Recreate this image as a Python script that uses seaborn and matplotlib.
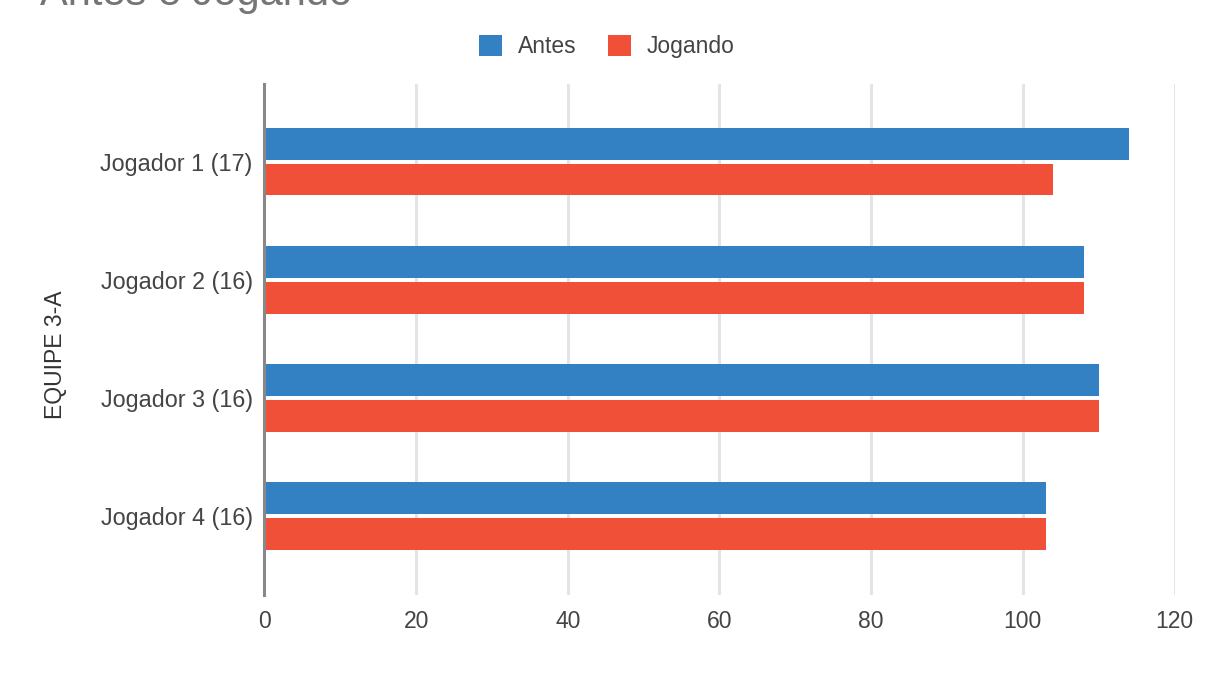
import matplotlib
matplotlib.use("Agg")
import matplotlib.pyplot as plt
import seaborn as sns
import pandas as pd

# Data
jogadores = ["Jogador 1 (17)", "Jogador 2 (16)", "Jogador 3 (16)", "Jogador 4 (16)"]
antes = [114, 108, 110, 103]
jogando = [104, 108, 110, 103]
series_names = ["Antes", "Jogando"]
x_ticks = [0, 20, 40, 60, 80, 100, 120]

df = pd.DataFrame({
    "jogador": jogadores * 2,
    "valor": antes + jogando,
    "serie": [series_names[0]] * len(jogadores) + [series_names[1]] * len(jogadores),
})

sns.set_theme(style="white")
plt.rcParams["font.family"] = ["Liberation Sans", "DejaVu Sans"]

fig = plt.figure(figsize=(12.26, 6.9), dpi=100)
ax = fig.add_axes([0.2157, 0.1377, 0.7423, 0.7406])

palette = {"Antes": "#3381C3", "Jogando": "#F05037"}
sns.barplot(data=df, y="jogador", x="valor", hue="serie", hue_order=series_names,
            order=jogadores, palette=palette, orient="h", width=0.6, gap=0.1,
            saturation=1, linewidth=0, ax=ax, legend=True, zorder=3)

ax.set_xlim(0, 120)
ax.set_ylim(3.67, -0.66)
ax.set_xticks(x_ticks)
ax.set_xticklabels([str(t) for t in x_ticks])
ax.grid(axis="x", color="#e4e4e4", linewidth=2.2, zorder=0)
ax.set_axisbelow(True)

for side in ["top", "right", "bottom"]:
    ax.spines[side].set_visible(False)
ax.spines["left"].set_color("#888888")
ax.spines["left"].set_linewidth(2.2)
ax.spines["left"].set_zorder(5)

ax.tick_params(axis="y", length=0, pad=8.5, labelsize=16.8, labelcolor="#444444")
ax.tick_params(axis="x", length=0, pad=11, labelsize=16.5, labelcolor="#444444")

ax.set_xlabel("")
ax.set_ylabel("EQUIPE 3-A", fontsize=16.5, color="#333333")
ax.yaxis.set_label_coords(-0.217, 0.47)

# Legend across the top
handles, labels = ax.get_legend_handles_labels()
ax.legend_.remove()
fig.legend(handles, labels, loc="center", bbox_to_anchor=(0.495, 0.932), ncol=2,
           frameon=False, fontsize=16.5, handlelength=1.0, handleheight=1.0,
           handletextpad=0.7, columnspacing=1.35, labelcolor="#444444")

# Title sits at the very top edge
fig.text(40 / 1226, 1 - 5 / 690, "Antes e Jogando", fontsize=30, color="#757575",
         ha="left", va="baseline")

fig.savefig("out.png", dpi=100)
